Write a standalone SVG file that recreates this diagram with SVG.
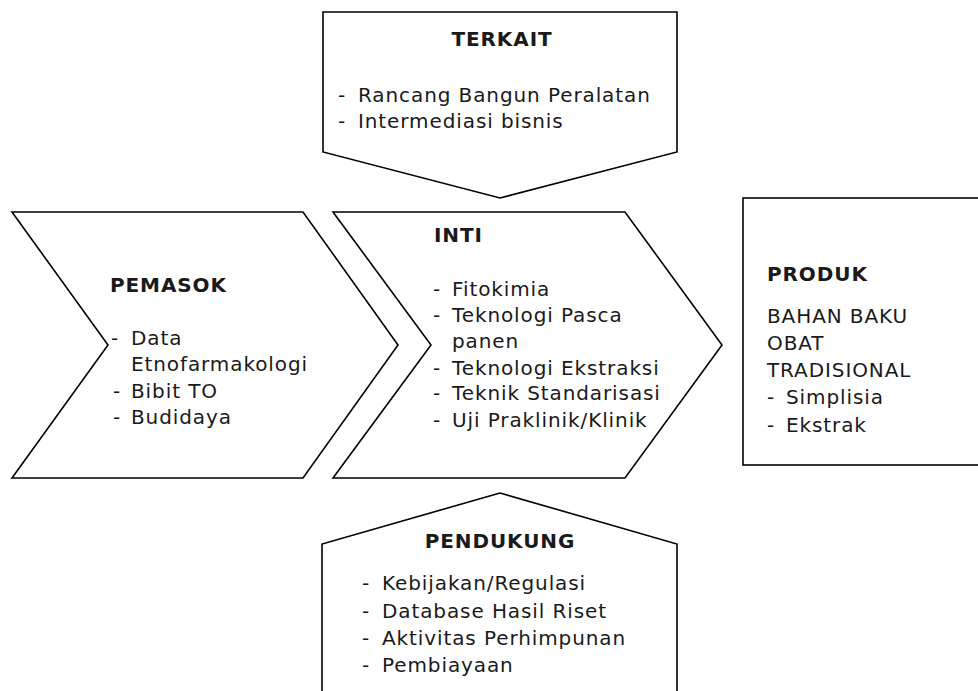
<svg xmlns="http://www.w3.org/2000/svg" width="978" height="691" viewBox="0 0 978 691">
<style>
.shape{fill:#fff;stroke:#000;stroke-width:1.6;stroke-linejoin:miter}
text{font-family:"DejaVu Sans","Verdana",sans-serif;font-size:20px;fill:#1a1a1a;letter-spacing:0.9px}
.t{font-weight:bold}
</style>
<rect width="978" height="691" fill="#fff"/>
<g id="connectors"></g>
<g id="terkait">
<polygon class="shape" points="323,12 677,12 677,152 500,198 323,152"/>
<text class="t" x="502" y="46" text-anchor="middle">TERKAIT</text>
<text x="338" y="102">-</text><text x="358" y="102">Rancang Bangun Peralatan</text>
<text x="338" y="128">-</text><text x="358" y="128">Intermediasi bisnis</text>
</g>
<g id="pemasok">
<polygon class="shape" points="12,212 303,212 398,345 303,478 12,478 108,345"/>
<text class="t" x="110" y="292">PEMASOK</text>
<text x="111" y="345">-</text><text x="131" y="345">Data</text>
<text x="131" y="371">Etnofarmakologi</text>
<text x="113" y="398">-</text><text x="131" y="398">Bibit TO</text>
<text x="113" y="424">-</text><text x="131" y="424">Budidaya</text>
</g>
<g id="inti">
<polygon class="shape" points="333,212 625,212 722,345 625,478 333,478 431,345"/>
<text class="t" x="434" y="242">INTI</text>
<text x="433" y="296">-</text><text x="452" y="296">Fitokimia</text>
<text x="433" y="322">-</text><text x="452" y="322">Teknologi Pasca</text>
<text x="452" y="348">panen</text>
<text x="433" y="375">-</text><text x="452" y="375">Teknologi Ekstraksi</text>
<text x="433" y="400">-</text><text x="452" y="400">Teknik Standarisasi</text>
<text x="433" y="427">-</text><text x="452" y="427">Uji Praklinik/Klinik</text>
</g>
<g id="produk">
<rect class="shape" x="743" y="198" width="250" height="267"/>
<text class="t" x="767" y="281">PRODUK</text>
<text x="767" y="323">BAHAN BAKU</text>
<text x="767" y="350">OBAT</text>
<text x="767" y="377">TRADISIONAL</text>
<text x="767" y="404">-</text><text x="786" y="404">Simplisia</text>
<text x="767" y="432">-</text><text x="786" y="432">Ekstrak</text>
</g>
<g id="pendukung">
<polygon class="shape" points="322,700 322,544 500,493 677,544 677,700"/>
<text class="t" x="500" y="548" text-anchor="middle">PENDUKUNG</text>
<text x="362" y="590">-</text><text x="382" y="590">Kebijakan/Regulasi</text>
<text x="362" y="618">-</text><text x="382" y="618">Database Hasil Riset</text>
<text x="362" y="645">-</text><text x="382" y="645">Aktivitas Perhimpunan</text>
<text x="362" y="672">-</text><text x="382" y="672">Pembiayaan</text>
</g>
</svg>
